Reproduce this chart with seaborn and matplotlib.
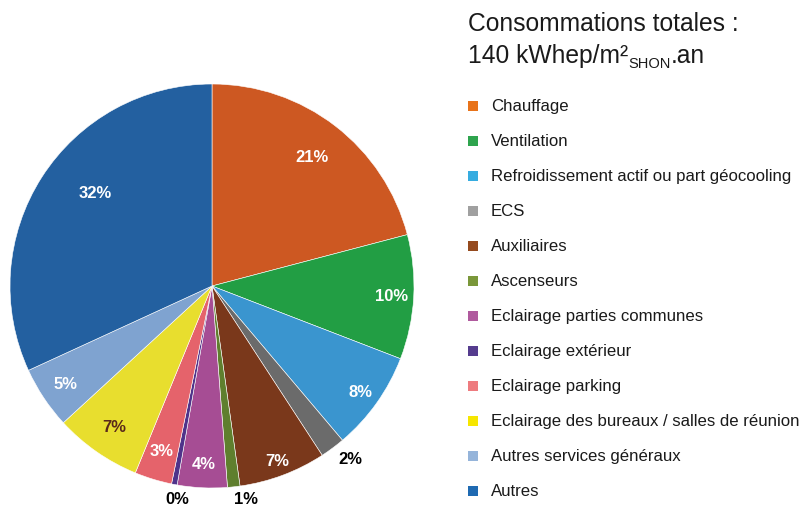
import matplotlib
matplotlib.use("Agg")
import matplotlib.pyplot as plt
from matplotlib.patches import Rectangle
import numpy as np
import seaborn as sns

# Energy use breakdown (share of total, %)
categories = [
    "Chauffage",
    "Ventilation",
    "Refroidissement actif ou part géocooling",
    "ECS",
    "Auxiliaires",
    "Ascenseurs",
    "Eclairage parties communes",
    "Eclairage extérieur",
    "Eclairage parking",
    "Eclairage des bureaux / salles de réunion",
    "Autres services généraux",
    "Autres",
]
shares = [21, 10, 8, 2, 7, 1, 4, 0.45, 3, 7, 5, 32]

slice_colors = ["#CD5822", "#229E44", "#3A95CF", "#6B6B6B", "#7A381B", "#5F7F2E",
                "#A64D94", "#4F338A", "#E5636B", "#E8DE2E", "#7FA3D0", "#2360A0"]
legend_colors = ["#E8731A", "#2EA44E", "#36ACE0", "#A0A0A0", "#954A1E", "#7A973A",
                 "#B05A9E", "#553C8E", "#EE7B7F", "#F6E600", "#95B4DA", "#1F6AB2"]

title_line1 = "Consommations totales :"
title_main = "140 kWhep/m²"
title_sub = "SHON"
title_tail = ".an"

sns.set_theme(style="white")
plt.rcParams["font.family"] = ["Liberation Sans", "DejaVu Sans"]

W, H = 809, 506
fig = plt.figure(figsize=(W / 100, H / 100), dpi=100)

# Pie centred at (212, 287) px with radius 202 px
cx, cy, r = 212, 287, 202
ax = fig.add_axes([(cx - r) / W, (H - cy - r) / H, 2 * r / W, 2 * r / H])
wedges, _ = ax.pie(shares, colors=slice_colors, startangle=90, counterclock=False,
                   radius=1.0, wedgeprops=dict(edgecolor="white", linewidth=0.4))
ax.set_xlim(-1, 1)
ax.set_ylim(-1, 1)
ax.set_aspect("equal")
ax.axis("off")

# label radius (fraction of pie radius), text colour and angular nudge per slice
label_dist = [0.81, 0.89, 0.90, 1.095, 0.92, 1.065, 0.88, 1.065, 0.85, 0.85, 0.87, 0.74]
label_color = ["white", "white", "white", "black", "white", "black",
               "white", "black", "white", "#5A2A1A", "white", "white"]
angle_shift = [0, 0, 0, 2, 0, 3, 0, 1.5, 0, 0, 0, -6]

for w, v, d, c, s in zip(wedges, shares, label_dist, label_color, angle_shift):
    mid = np.deg2rad((w.theta1 + w.theta2) / 2 + s)
    ax.text(d * np.cos(mid), d * np.sin(mid), f"{v:.0f}%", ha="center", va="center",
            color=c, fontsize=12, fontweight="bold", clip_on=False)

# Title
tx = 468 / W
fig.text(tx, 1 - 31 / H, title_line1, fontsize=17.7, color="#1a1a1a",
         va="baseline", ha="left")
t_main = fig.text(tx, 1 - 63 / H, title_main, fontsize=17.7, color="#1a1a1a",
                  va="baseline", ha="left")
fig.canvas.draw()
rend = fig.canvas.get_renderer()
bb = t_main.get_window_extent(rend)
t_sub = fig.text(bb.x1 / W, (H - 68) / H, title_sub, fontsize=10.5,
                 color="#1a1a1a", va="baseline", ha="left")
fig.canvas.draw()
bb2 = t_sub.get_window_extent(rend)
fig.text(bb2.x1 / W, 1 - 63 / H, title_tail, fontsize=17.7, color="#1a1a1a",
         va="baseline", ha="left")

# Legend
for i, (name, col) in enumerate(zip(categories, legend_colors)):
    yc = 107 + 35 * i
    fig.add_artist(Rectangle((468 / W, (H - yc - 5) / H), 10 / W, 10 / H,
                             transform=fig.transFigure, facecolor=col, edgecolor="none"))
    fig.text(491 / W, (H - yc) / H, name, fontsize=12.1, color="#1a1a1a",
             va="center", ha="left")

fig.savefig("out.png", dpi=100, facecolor="white")
